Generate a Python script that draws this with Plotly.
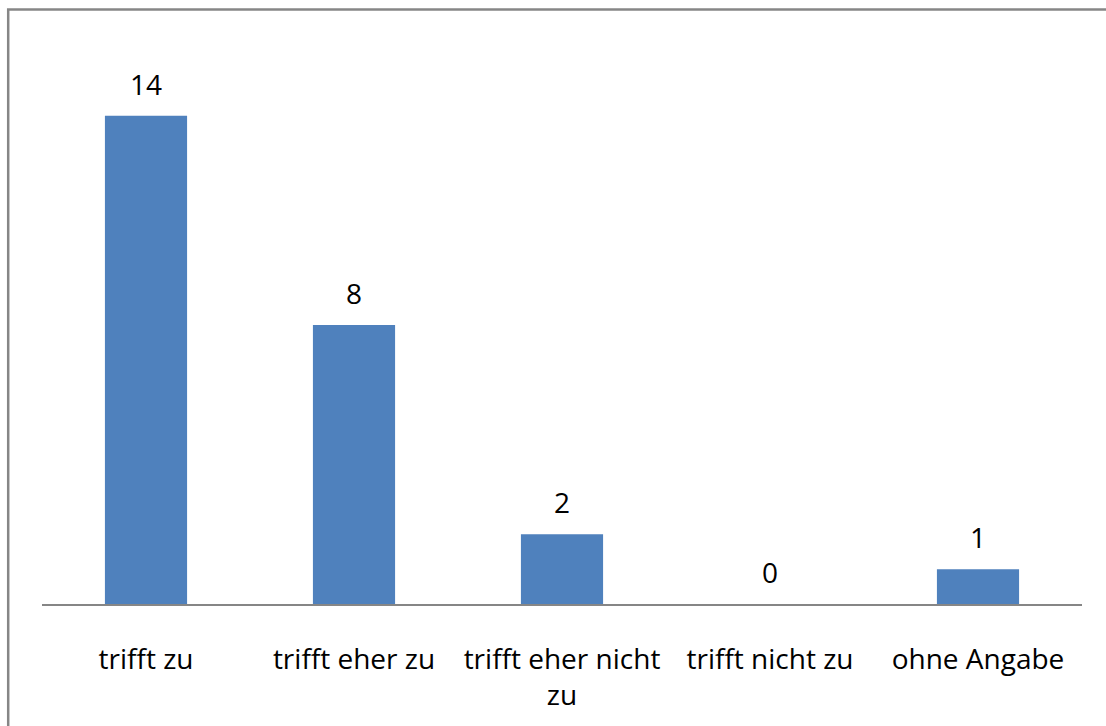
import plotly.graph_objects as go

categories = ["trifft zu", "trifft eher zu", "trifft eher nicht<br>zu", "trifft nicht zu", "ohne Angabe"]
counts = [14, 8, 2, 0, 1]

BAR_COLOR = "#4F81BD"
LINE_GRAY = "#868686"
FONT = "Open Sans, Noto Sans, sans-serif"
FONT_SIZE = 28

fig = go.Figure(
    go.Bar(
        x=categories,
        y=counts,
        width=0.395,
        marker=dict(color=BAR_COLOR, line=dict(width=0)),
        hoverinfo="x+y",
    )
)

# value labels sitting above each bar
for cat, val in zip(categories, counts):
    fig.add_annotation(
        x=cat,
        y=val,
        text=str(val),
        showarrow=False,
        xanchor="center",
        yanchor="bottom",
        yshift=11,
        font=dict(family=FONT, size=FONT_SIZE, color="black"),
    )

fig.update_layout(
    width=1106,
    height=726,
    margin=dict(l=42, r=24, t=46, b=122),
    paper_bgcolor="white",
    plot_bgcolor="white",
    showlegend=False,
    font=dict(family=FONT, color="black"),
    xaxis=dict(
        showline=True,
        linecolor=LINE_GRAY,
        linewidth=2,
        showgrid=False,
        ticks="",
        ticklabelstandoff=29,
        tickfont=dict(family=FONT, size=FONT_SIZE, color="black"),
        fixedrange=True,
    ),
    yaxis=dict(
        range=[0, 16],
        visible=False,
        showgrid=False,
        zeroline=False,
        fixedrange=True,
    ),
    shapes=[
        dict(
            type="rect",
            xref="paper",
            yref="paper",
            x0=-0.0325,
            x1=1.2,
            y0=-0.5,
            y1=1.0655,
            line=dict(color=LINE_GRAY, width=2.5),
            fillcolor="rgba(0,0,0,0)",
            layer="below",
        )
    ],
)

fig.write_html("out.html")
